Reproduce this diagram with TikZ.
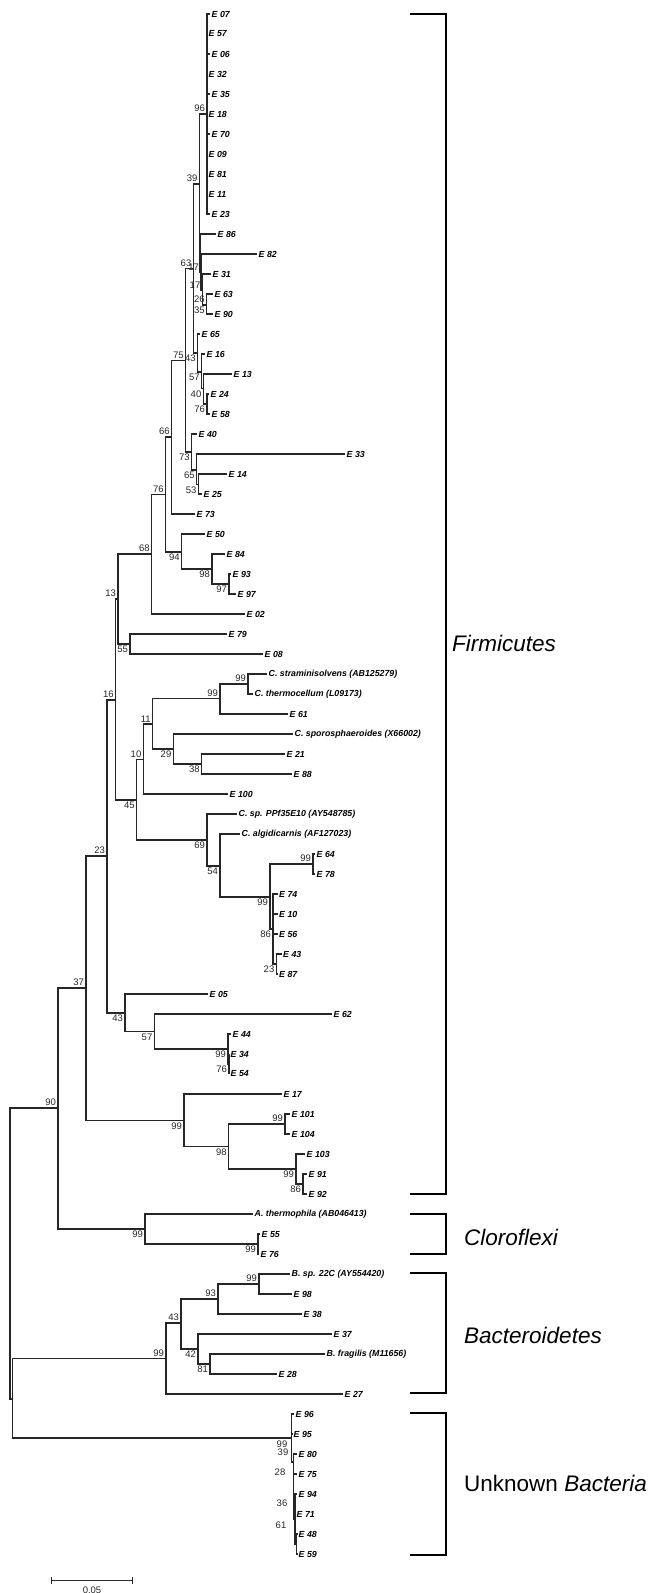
\documentclass[tikz,border=0pt]{standalone}
\usepackage{fontspec}
\setmainfont{Liberation Sans}
\usetikzlibrary{arrows.meta}
\tikzset{
  br/.style  ={draw=black!85, line width=1.4pt},
  lf/.style  ={anchor=west, inner sep=1.5pt, font=\fontsize{8.8}{9}\selectfont\bfseries\itshape},
  bs/.style  ={inner sep=1.8pt, font=\fontsize{9.5}{10}\selectfont, text=black!85},
  brk/.style ={draw=black, line width=2.4pt},
  grp/.style ={anchor=west, inner sep=0pt, font=\fontsize{22.5}{24}\selectfont},
  sbar/.style={draw=black!85, line width=1.4pt, {Bar[width=7pt]}-{Bar[width=7pt]}},
}
\newcommand{\treefork}[2]{\foreach \c in {#2}{\draw[br] (#1) |- (\c);}}

\begin{document}
\begin{tikzpicture}[x=1pt, y=-1pt]
\useasboundingbox (0,0) rectangle (652,1593);
% taxa, one row every 20
\foreach \i/\x/\nm/\tx in {
  1/210/e07/E 07, 2/207/e57/E 57, 3/210/e06/E 06, 4/207/e32/E 32, 5/210/e35/E 35,
  6/207/e18/E 18, 7/210/e70/E 70, 8/207/e09/E 09, 9/207/e81/E 81, 10/207/e11/E 11,
  11/210/e23/E 23, 12/216/e86/E 86, 13/257/e82/E 82, 14/211/e31/E 31, 15/213/e63/E 63,
  16/213/e90/E 90, 17/200/e65/E 65, 18/205/e16/E 16, 19/232/e13/E 13, 20/209/e24/E 24,
  21/210/e58/E 58, 22/197/e40/E 40, 23/345/e33/E 33, 24/227/e14/E 14, 25/202/e25/E 25,
  26/195/e73/E 73, 27/205/e50/E 50, 28/225/e84/E 84, 29/231/e93/E 93, 30/236/e97/E 97,
  31/245/e02/E 02, 32/227/e79/E 79, 33/263/e08/E 08,
  34/267/cstr/C. straminisolvens (AB125279), 35/253/cthe/C. thermocellum (L09173),
  36/288/e61/E 61, 37/293/cspo/C. sporosphaeroides (X66002), 38/285/e21/E 21,
  39/292/e88/E 88, 40/228/e100/E 100, 41/237/cppf/C. sp. PPf35E10 (AY548785),
  42/240/calg/C. algidicarnis (AF127023), 43/315/e64/E 64, 44/315/e78/E 78,
  45/277.5/e74/E 74, 46/277.5/e10/E 10, 47/277.5/e56/E 56, 48/281.5/e43/E 43,
  49/277.5/e87/E 87, 50/208/e05/E 05, 51/332/e62/E 62, 52/231/e44/E 44, 53/229/e34/E 34,
  54/229/e54/E 54, 55/282/e17/E 17, 56/290/e101/E 101, 57/290/e104/E 104,
  58/305/e103/E 103, 59/307/e91/E 91, 60/307/e92/E 92,
  61/253/athe/A. thermophila (AB046413), 62/260/e55/E 55, 63/259/e76/E 76,
  64/290/bsp/B. sp. 22C (AY554420), 65/292/e98/E 98, 66/302/e38/E 38, 67/332/e37/E 37,
  68/325/bfra/B. fragilis (M11656), 69/277/e28/E 28, 70/343/e27/E 27,
  71/294/e96/E 96, 72/292/e95/E 95, 73/297/e80/E 80, 74/297/e75/E 75, 75/297/e94/E 94,
  76/295/e71/E 71, 77/297/e48/E 48, 78/297/e59/E 59}
  {\node[lf] (\nm) at (\x,{14+20*(\i-1)}) {\tx};}
% inner nodes
\foreach \nm/\x/\y in {
  P/207/114, A/199.5/184, A2/200/253.5, A3/201/272, A4/202.3/290, A5/206.7/305,
  n63/193.3/268.5, B1/197.7/353, B2/201.7/372, B3/203.3/388.5, B4/207/404,
  n75/185.7/360.5, n73/191.7/452, C1/196.7/470, C2/198.5/484.5, n66/171.7/437,
  n94/181.7/552, n98a/212/569, n97/229/584, n76/165.7/494.5, n68/151.7/554,
  n55/130/644, n13/118/599, n16/115.7/700, n45/136.7/800, n10/143.3/759.5,
  n11/152.7/724, n99a/220/698.5, n99b/248/684, n29/173.3/749, n38/201.7/764,
  n69/207/840, n54/220/866, n99c/270/897, n99d/313/864, n86/273/929, n23b/276.3/964,
  n23/107/856, n43/125/1013, n57/154.3/1031.5, n99e/228/1049, n76b/229/1064,
  n37/86/988, n99f/184/1120.5, n98/228.7/1146.5, n99g/285/1124, n99h/296/1169,
  n86b/303/1184, n90/58/1108, n99i/145/1229, n99j/258/1244, root/10/1253.5,
  rootb/12.7/1399, n99k/166/1358.5, n43b/181/1323, n93/218/1299, n99l/259/1284,
  n42/198/1349, n81/210/1364, n99m/291.7/1438, n39u/293.3/1462, n36u/295/1519,
  n61u/296.5/1544}
  {\coordinate (\nm) at (\x,\y);}
% branches
\treefork{P}{e07.west,e57.west,e06.west,e32.west,e35.west,e18.west,e70.west,e09.west,e81.west,e11.west,e23.west}
\treefork{A}{P,A2}
\treefork{A2}{e86.west,A3}
\treefork{A3}{e82.west,A4}
\treefork{A4}{e31.west,A5}
\treefork{A5}{e63.west,e90.west}
\treefork{n63}{A,B1}
\treefork{B1}{e65.west,B2}
\treefork{B2}{e16.west,B3}
\treefork{B3}{e13.west,B4}
\treefork{B4}{e24.west,e58.west}
\treefork{n75}{n63,n73}
\treefork{n73}{e40.west,C1}
\treefork{C1}{e33.west,C2}
\treefork{C2}{e14.west,e25.west}
\treefork{n66}{n75,e73.west}
\treefork{n94}{e50.west,n98a}
\treefork{n98a}{e84.west,n97}
\treefork{n97}{e93.west,e97.west}
\treefork{n76}{n66,n94}
\treefork{n68}{n76,e02.west}
\treefork{n55}{e79.west,e08.west}
\treefork{n13}{n68,n55}
\treefork{n16}{n13,n45}
\treefork{n45}{n10,n69}
\treefork{n10}{n11,e100.west}
\treefork{n11}{n99a,n29}
\treefork{n99a}{n99b,e61.west}
\treefork{n99b}{cstr.west,cthe.west}
\treefork{n29}{cspo.west,n38}
\treefork{n38}{e21.west,e88.west}
\treefork{n69}{cppf.west,n54}
\treefork{n54}{calg.west,n99c}
\treefork{n99c}{n99d,n86}
\treefork{n99d}{e64.west,e78.west}
\treefork{n86}{e74.west,e10.west,e56.west,n23b}
\treefork{n23b}{e43.west,e87.west}
\treefork{n23}{n16,n43}
\treefork{n43}{e05.west,n57}
\treefork{n57}{e62.west,n99e}
\treefork{n99e}{e44.west,n76b}
\treefork{n76b}{e34.west,e54.west}
\treefork{n37}{n23,n99f}
\treefork{n99f}{e17.west,n98}
\treefork{n98}{n99g,n99h}
\treefork{n99g}{e101.west,e104.west}
\treefork{n99h}{e103.west,n86b}
\treefork{n86b}{e91.west,e92.west}
\treefork{n90}{n37,n99i}
\treefork{n99i}{athe.west,n99j}
\treefork{n99j}{e55.west,e76.west}
\treefork{root}{n90,rootb}
\treefork{rootb}{n99k,n99m}
\treefork{n99k}{n43b,e27.west}
\treefork{n43b}{n93,n42}
\treefork{n93}{n99l,e38.west}
\treefork{n99l}{bsp.west,e98.west}
\treefork{n42}{e37.west,n81}
\treefork{n81}{bfra.west,e28.west}
\treefork{n99m}{e96.west,e95.west,n39u}
\treefork{n39u}{e80.west,e75.west,n36u}
\treefork{n36u}{e94.west,e71.west,n61u}
\treefork{n61u}{e48.west,e59.west}
% bootstrap values
\foreach \nd/\v in {P/96, A/39, n63/63, A3/17, A4/17, A5/26, n75/75, n66/66, n76/76,
  n68/68, n13/13, n16/16, n10/10, n11/11, n99a/99, n99b/99, n99d/99, n99g/99, n23/23,
  n37/37, n90/90, n99k/99, n43b/43, n93/93, n99l/99}
  {\node[bs, above left] at (\nd) {\v};}
\foreach \nd/\v in {A5/35, B1/43, B2/57, B3/40, B4/76, n73/73, C1/65, C2/53, n94/94,
  n98a/98, n97/97, n55/55, n45/45, n29/29, n38/38, n69/69, n54/54, n99c/99, n86/86,
  n23b/23, n43/43, n57/57, n99e/99, n76b/76, n99f/99, n98/98, n99h/99, n86b/86,
  n99i/99, n99j/99, n42/42, n81/81}
  {\node[bs, below left] at (\nd) {\v};}
\node[bs] (b99m) at (282,1444) {99};
\node[bs] (b39u) at (283,1452) {39};
\node[bs] (b28u) at (280,1472) {28};
\node[bs] (b36u) at (282,1503) {36};
\node[bs] (b61u) at (281,1525) {61};
% clade brackets
\draw[brk] (410,14) -| (446,1194) -- (410,1194);
\draw[brk] (410,1214) -| (446,1254) -- (410,1254);
\draw[brk] (410,1273) -| (446,1393) -- (410,1393);
\draw[brk] (410,1413) -| (446,1555) -- (410,1555);
\node[grp] (firm) at (452,643) {\itshape Firmicutes};
\node[grp] (clor) at (464,1237) {\itshape Cloroflexi};
\node[grp] (bact) at (464,1335) {\itshape Bacteroidetes};
\node[grp] (unkn) at (464,1483) {Unknown \textit{Bacteria}};
% scale bar
\coordinate (sb0) at (50.7,1580.7);
\coordinate (sb1) at (133.3,1580.7);
\draw[sbar] (sb0) -- node[bs, below, inner sep=5.5pt] (sbl) {0.05} (sb1);
\end{tikzpicture}
\end{document}
